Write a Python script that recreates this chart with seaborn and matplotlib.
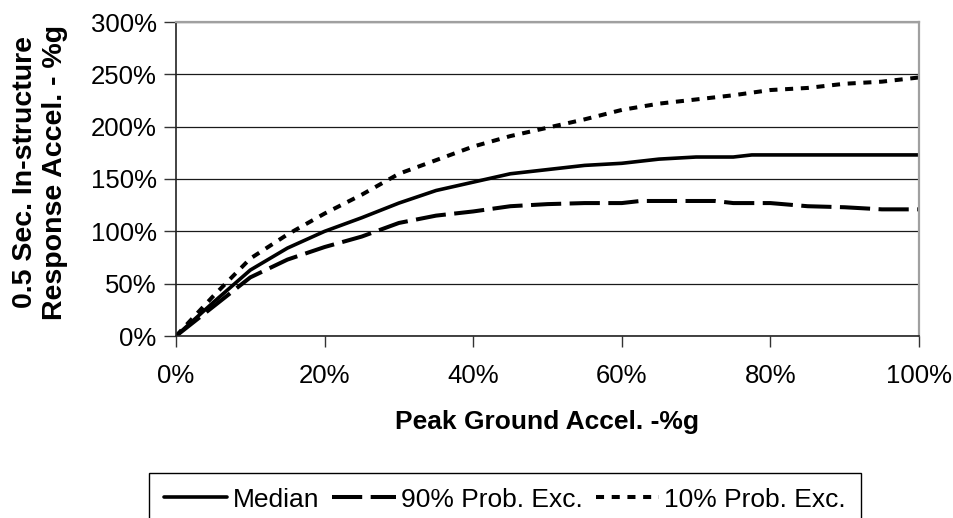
import numpy as np
import pandas as pd
import matplotlib
matplotlib.use("Agg")
import matplotlib.pyplot as plt
from matplotlib.ticker import PercentFormatter
import seaborn as sns

# DATA (fractions of g)
pga_median = [0, .05, .1, .15, .2, .25, .3, .35, .4, .45, .5, .55, .6, .65, .7, .75, .775, .8, .85, .9, .95, 1.0]
median = [0, .32, .63, .84, 1.0, 1.13, 1.27, 1.39, 1.47, 1.55, 1.59, 1.63, 1.65, 1.69, 1.71, 1.71, 1.73, 1.73, 1.73, 1.73, 1.73, 1.73]

pga_90 = [0, .05, .1, .15, .2, .25, .3, .35, .4, .45, .5, .55, .6, .625, .7, .725, .75, .8, .85, .9, .95, 1.0]
prob90 = [0, .28, .56, .73, .85, .95, 1.08, 1.15, 1.19, 1.24, 1.26, 1.27, 1.27, 1.29, 1.29, 1.29, 1.27, 1.27, 1.24, 1.23, 1.21, 1.21]

pga_10 = [0, .05, .1, .15, .2, .25, .3, .35, .4, .45, .5, .55, .6, .65, .7, .75, .8, .85, .9, .95, 1.0]
prob10 = [0, .38, .74, .97, 1.17, 1.35, 1.55, 1.68, 1.81, 1.91, 1.99, 2.07, 2.16, 2.22, 2.26, 2.30, 2.35, 2.37, 2.41, 2.43, 2.47]

labels = ["Median", "90% Prob. Exc.", "10% Prob. Exc."]
x_ticks = [0, .2, .4, .6, .8, 1.0]
y_ticks = [0, .5, 1.0, 1.5, 2.0, 2.5, 3.0]

sns.set_style("white", {"text.color": "black", "xtick.color": "black",
                        "ytick.color": "black", "axes.labelcolor": "black"})
plt.rcParams['font.family'] = ['Liberation Sans', 'DejaVu Sans']

fig = plt.figure(figsize=(9.54, 5.18), dpi=100)
ax = fig.add_axes([176/954, 1 - 336/518, (919 - 176)/954, (336 - 22)/518])

sns.lineplot(x=pga_median, y=median, ax=ax, color="black", lw=2.6,
             linestyle="-", label=labels[0])
sns.lineplot(x=pga_90, y=prob90, ax=ax, color="black", lw=2.9,
             linestyle=(0, (7.5, 2.1)), label=labels[1])
sns.lineplot(x=pga_10, y=prob10, ax=ax, color="black", lw=2.9,
             linestyle=(0, (2.0, 1.9)), label=labels[2])

ax.set_xlim(0, 1.0)
ax.set_ylim(0, 3.0)
ax.set_xticks(x_ticks)
ax.set_yticks(y_ticks)
ax.xaxis.set_major_formatter(PercentFormatter(xmax=1, decimals=0))
ax.yaxis.set_major_formatter(PercentFormatter(xmax=1, decimals=0))
ax.grid(axis="y", color="#1a1a1a", lw=0.9)
ax.grid(axis="x", visible=False)

ax.tick_params(axis="x", direction="out", length=8, width=1, color="#333333",
               labelsize=18.5, pad=12, bottom=True, labelcolor="black")
ax.tick_params(axis="y", direction="out", length=9, width=1, color="#333333",
               labelsize=18.5, pad=5, left=True, labelcolor="black")

for side in ["left", "bottom"]:
    ax.spines[side].set_color("#222222")
    ax.spines[side].set_linewidth(1.2)
for side in ["top", "right"]:
    ax.spines[side].set_color("#a0a0a0")
    ax.spines[side].set_linewidth(1.6)

ax.set_xlabel("Peak Ground Accel. -%g", fontsize=19, fontweight="bold",
              labelpad=16, color="black")
fig.text(40/954, 1 - 172/518, "0.5 Sec. In-structure\nResponse Accel. - %g",
         rotation=90, fontsize=20.5, fontweight="bold", ha="center", va="center",
         color="black", linespacing=1.2)

ax.get_legend().remove()
handles, labs = ax.get_legend_handles_labels()
leg = fig.legend(handles, labs, loc="upper center", bbox_to_anchor=(505/954, 1 - 473/518),
                 ncol=3, fontsize=19, frameon=True, fancybox=False, framealpha=1,
                 edgecolor="black", borderpad=0.55, handlelength=2.4,
                 handletextpad=0.2, columnspacing=0.5, borderaxespad=0)
leg.get_frame().set_linewidth(1.0)
for t in leg.get_texts():
    t.set_color("black")

fig.savefig("out.png", dpi=100)
